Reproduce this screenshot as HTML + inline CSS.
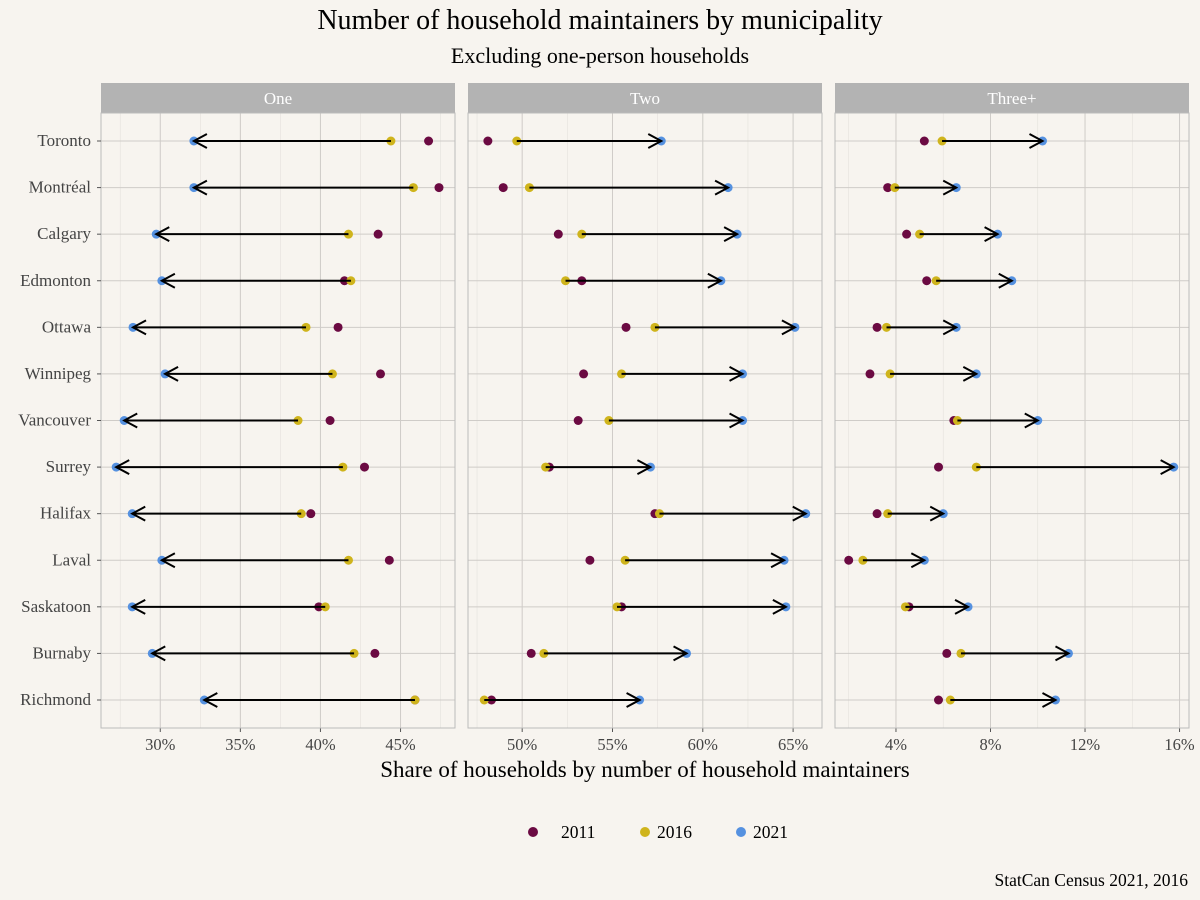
<!DOCTYPE html>
<html><head><meta charset="utf-8"><style>
body{margin:0;background:#f7f4ef;}
svg{display:block;font-family:"Liberation Serif",serif;}
</style></head><body>
<svg id="c" width="1200" height="900">
<rect width="1200" height="900" fill="#f7f4ef"/>
<text x="600" y="29" font-size="28" text-anchor="middle">Number of household maintainers by municipality</text>
<text x="600" y="63" font-size="22" text-anchor="middle">Excluding one-person households</text>
<text x="645" y="777" font-size="23" text-anchor="middle">Share of households by number of household maintainers</text>
<text x="1188" y="886" font-size="17.5" text-anchor="end">StatCan Census 2021, 2016</text>
<g id="legend">
<circle cx="533" cy="832" r="5" fill="#6b0a42"/><text x="561" y="838" font-size="17.5">2011</text>
<circle cx="645" cy="832" r="5" fill="#cfb41c"/><text x="657" y="838" font-size="17.5">2016</text>
<circle cx="741" cy="832" r="5" fill="#5591e0"/><text x="753" y="838" font-size="17.5">2021</text>
</g>
</svg>
<script>
const cities=["Toronto","Montréal","Calgary","Edmonton","Ottawa","Winnipeg","Vancouver","Surrey","Halifax","Laval","Saskatoon","Burnaby","Richmond"];
const panelNames=["One","Two","Three+"];
const one2011=[46.75,47.4,43.6,41.5,41.1,43.75,40.6,42.75,39.4,44.3,39.9,43.4,45.9];
const one2016=[44.4,45.8,41.75,41.9,39.1,40.75,38.6,41.4,38.8,41.75,40.3,42.1,45.9];
const one2021=[32.1,32.1,29.75,30.1,28.3,30.3,27.75,27.25,28.25,30.1,28.25,29.5,32.75];
const two2011=[48.1,48.95,52.0,53.3,55.75,53.4,53.1,51.5,57.35,53.75,55.5,50.5,48.3];
const two2016=[49.7,50.4,53.3,52.4,57.35,55.5,54.8,51.3,57.6,55.7,55.25,51.2,47.9];
const two2021=[57.7,61.4,61.9,61.0,65.1,62.2,62.2,57.1,65.7,64.5,64.6,59.1,56.5];
const three2011=[5.2,3.65,4.45,5.3,3.2,2.9,6.45,5.8,3.2,2.0,4.55,6.15,5.8];
const three2016=[5.95,3.95,5.0,5.7,3.6,3.75,6.6,7.4,3.65,2.6,4.4,6.75,6.3];
const three2021=[10.2,6.55,8.3,8.9,6.55,7.4,10.0,15.75,6.0,5.2,7.05,11.3,10.75];
const ticks1=[30,35,40,45], ticks2=[50,55,60,65], ticks3=[4,8,12,16];
const domains=[[26.3,48.4],[47.0,66.6],[1.42,16.4]];
const series=[[one2011,one2016,one2021],[two2011,two2016,two2021],[three2011,three2016,three2021]];
const tickSets=[ticks1,ticks2,ticks3];
const minorSteps=[2.5,2.5,2];
const panelX=[101,468,835], panelW=354, plotTop=113, plotBottom=728, stripTop=83;
const colors=["#6b0a42","#cfb41c","#5591e0"];
const svg=document.getElementById('c');
const NS="http://www.w3.org/2000/svg";
function mk(tag,attrs,parent){const e=document.createElementNS(NS,tag);for(const k in attrs)e.setAttribute(k,attrs[k]);(parent||svg).appendChild(e);return e;}
const y0=141, yStep=(700-141)/12;
function yPos(i){return y0+i*yStep;}
for(let p=0;p<3;p++){
  const [d0,d1]=domains[p];
  const xs=v=>panelX[p]+(v-d0)/(d1-d0)*panelW;
  const g=mk('g',{});
  
  
  const strip=mk('rect',{x:panelX[p],y:stripTop,width:panelW,height:30,fill:'#b3b3b3'},g);
  
  
  const st=mk('text',{x:panelX[p]+panelW/2,y:stripTop+21,'font-size':17,fill:'#fff','text-anchor':'middle'},g);
  st.textContent=panelNames[p];
  
  
  const ms=minorSteps[p];
  for(let v=Math.ceil(d0/ms)*ms;v<=d1;v+=ms){
    const x=xs(v);
    mk('line',{x1:x,x2:x,y1:plotTop,y2:plotBottom,stroke:'#e4e1dc','stroke-width':0.6},g);
  }
  for(const t of tickSets[p]){
    const x=xs(t);
    const gl=mk('line',{x1:x,x2:x,y1:plotTop,y2:plotBottom,stroke:'#cfccc8','stroke-width':1},g);
    
    
    mk('line',{x1:x,x2:x,y1:plotBottom,y2:plotBottom+4,stroke:'#555'},g);
    const tl=mk('text',{x:x,y:plotBottom+22,'font-size':16.5,fill:'#444','text-anchor':'middle'},g);
    tl.textContent=t+'%';
    
    
  }
  for(let i=0;i<cities.length;i++){
    mk('line',{x1:panelX[p],x2:panelX[p]+panelW,y1:yPos(i),y2:yPos(i),stroke:'#cfccc8','stroke-width':1},g);
  }
  mk('rect',{x:panelX[p],y:plotTop,width:panelW,height:plotBottom-plotTop,fill:'none',stroke:'#bbb'},g);
  for(let i=0;i<cities.length;i++){
    const y=yPos(i);
    [0,1,2].forEach(s=>{
      const c=mk('circle',{cx:xs(series[p][s][i]),cy:y,r:4.5,fill:colors[s]},g);
      
      
    });
    const xa=xs(series[p][1][i]), xb=xs(series[p][2][i]);
    const ln=mk('line',{x1:xa,x2:xb,y1:y,y2:y,stroke:'#000','stroke-width':2},g);
    
    
    const dir=xb>xa?1:-1;
    mk('polyline',{points:`${xb-dir*13},${y-7} ${xb},${y} ${xb-dir*13},${y+7}`,fill:'none',stroke:'#000','stroke-width':2},g);
  }
}
for(let i=0;i<cities.length;i++){
  mk('line',{x1:97,x2:101,y1:yPos(i),y2:yPos(i),stroke:'#555'});
  const t=mk('text',{x:91,y:yPos(i)+5,'font-size':17,fill:'#444','text-anchor':'end'});
  t.textContent=cities[i];
  
  
}
</script>
</body></html>
